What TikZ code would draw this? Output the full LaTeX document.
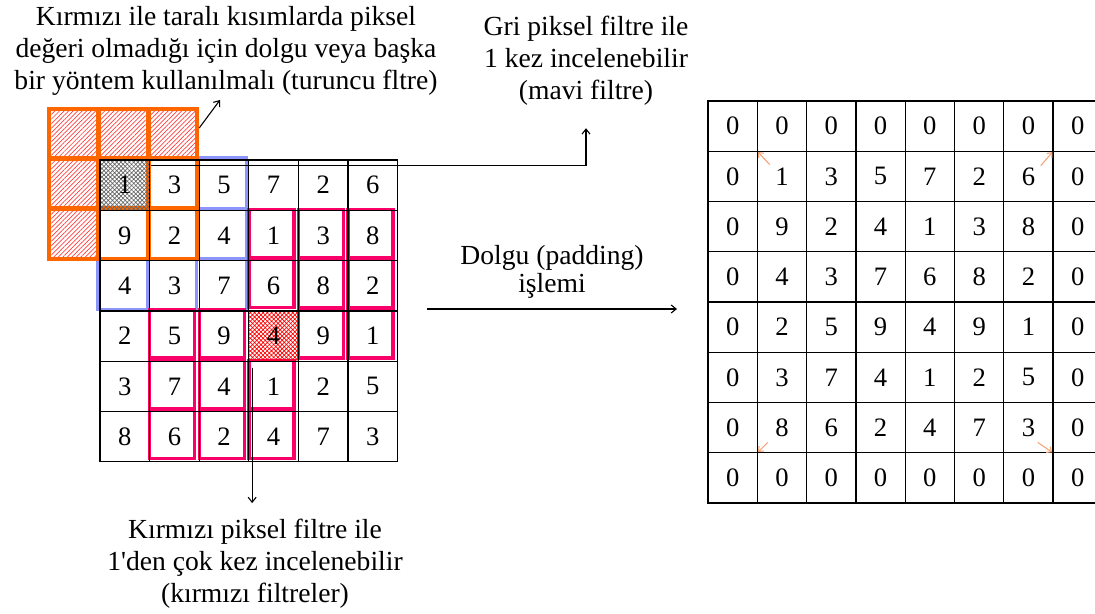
\documentclass[tikz,border=0pt]{standalone}
\usepackage{fontspec}
\setmainfont{Liberation Serif}
\usetikzlibrary{arrows.meta,calc,positioning,patterns.meta}
\definecolor{filtorange}{RGB}{255,102,0}
\definecolor{filtblue}{RGB}{140,150,250}
\definecolor{filtred}{RGB}{250,0,105}
\definecolor{hatchred}{RGB}{255,60,60}
\definecolor{cornerarr}{RGB}{245,165,120}
\tikzset{
  % pixel cells of the input image and of the padded image
  cell/.style={draw, rectangle, minimum width=24.8pt, minimum height=25.15pt,
               inner sep=0pt, line width=0.65pt, font=\fontsize{13.3}{15}\selectfont},
  padcell/.style={cell, minimum width=24.65pt, minimum height=25.125pt},
  % 3x3 filter outlines
  ofilt/.style={draw=filtorange, line width=2pt},
  bfilt/.style={draw=filtblue, line width=1.5pt},
  rfilt/.style={draw=filtred, line width=1.7pt},
  % fills
  nopixel/.style={pattern={Lines[angle=45,distance=1.6pt,line width=0.35pt]}, pattern color=hatchred},
  grayx/.style={pattern={Hatch[angle=45,distance=1.5pt,line width=0.35pt]}, pattern color=black!60},
  redx/.style={pattern={Hatch[angle=45,distance=1.5pt,line width=0.35pt]}, pattern color=red},
  % notes and arrows
  note/.style={align=center, inner sep=0pt, font=\fontsize{13.8}{16}\selectfont},
  flowarr/.style={-{Straight Barb[length=2.5pt,width=4pt]}, line width=0.55pt},
  cornarr/.style={-{Straight Barb[length=2pt,width=3.5pt]}, line width=0.55pt, draw=cornerarr}
}

\begin{document}
\begin{tikzpicture}[x=0.5pt, y=-0.5pt]
\clip (0,0) rectangle (1095,614);

% ---------- filters under the input image ----------
% blue filter around the gray pixel
\foreach \c in {0,1,2} \foreach \r in {0,1,2}
  \draw[bfilt] ({100+49.6*\c-2.5},{160+50.3*\r-2}) rectangle +(49.5,50.5);

% cells outside the image (no pixel value)
\foreach \c/\r in {-1/-1,0/-1,1/-1,-1/0,-1/1}
  \fill[nopixel] ({100+49.6*(\c)+1},{160+50.3*(\r)+1}) rectangle +(44.5,45.5);

% orange filter
\foreach \c in {-1,0,1} \foreach \r in {-1,0,1}
  \draw[ofilt] ({100+49.6*(\c)-1},{160+50.3*(\r)-1}) rectangle +(48.5,49.5);

% two red filters sharing the red pixel
\foreach \c/\r in {3/1,4/1,5/1,3/2,4/2,5/2,4/3,5/3,1/3,2/3,1/4,2/4,3/4,1/5,2/5,3/5}
  \draw[rfilt] ({100+49.6*\c},{160+50.3*\r-1}) rectangle +(45,48);

\fill[grayx] (100,160) rectangle +(49.6,50.3);
\fill[redx] ({100+49.6*3},{160+50.3*3}) rectangle +(49.6,50.3);

% ---------- input image 6x6 ----------
\foreach \vals [count=\r from 0] in {{1,3,5,7,2,6},{9,2,4,1,3,8},{4,3,7,6,8,2},
                                     {2,5,9,4,9,1},{3,7,4,1,2,5},{8,6,2,4,7,3}}
  \foreach \v [count=\c from 0] in \vals
    \node[cell] (L-\r-\c) at ({100+49.6*(\c+0.5)},{160+50.3*(\r+0.5)}) {\v};

% ---------- padded image 8x8 ----------
\foreach \vals [count=\r from 0] in {{0,0,0,0,0,0,0,0},{0,1,3,5,7,2,6,0},{0,9,2,4,1,3,8,0},
                                     {0,4,3,7,6,8,2,0},{0,2,5,9,4,9,1,0},{0,3,7,4,1,2,5,0},
                                     {0,8,6,2,4,7,3,0},{0,0,0,0,0,0,0,0}}
  \foreach \v [count=\c from 0] in \vals
    \node[padcell] (P-\r-\c) at ({708+49.3*(\c+0.5)},{101+50.25*(\r+0.5)}) {\v};

% ---------- notes ----------
\node[note, anchor=north] (ornote) at (226,6.1)
  {Kırmızı ile taralı kısımlarda piksel\\değeri olmadığı için dolgu veya başka\\bir yöntem kullanılmalı (turuncu fltre)};
\node[note, anchor=north] (grinote) at (586,16.1)
  {Gri piksel filtre ile\\1 kez incelenebilir\\(mavi filtre)};
\node[note, anchor=north] (rednote) at (255,519.1)
  {Kırmızı piksel filtre ile\\1\textquotesingle den çok kez incelenebilir\\(kırmızı filtreler)};

% ---------- arrows ----------
\coordinate (ocorner) at (199.2,128);
\draw[flowarr] (ocorner) -- ([xshift=-3pt,yshift=-2pt]ornote.south);

\coordinate (grifrom) at ($(L-0-1.north west)+(2,6)$);
\draw[flowarr, shorten >=11pt] (grifrom) -| (grinote.south);

\coordinate (redfrom) at ($(L-4-3.north west)+(4,7)$);
\draw[flowarr, shorten >=8pt] (redfrom) -- (redfrom |- rednote.north);

\coordinate (padfrom) at (427,309);
\coordinate (padto) at (677,309);
\draw[flowarr] (padfrom) -- node[note, above=5pt, font=\fontsize{13.8}{14}\selectfont] (padnote)
  {Dolgu (padding)\\işlemi} (padto);

% corner arrows of the padded image
\draw[cornarr, shorten >=1pt] ($(P-1-1.north west)+(13,14)$) -- (P-1-1.north west);
\draw[cornarr, shorten >=1pt] ($(P-1-6.north east)+(-13,15)$) -- (P-1-6.north east);
\draw[cornarr, shorten >=1pt] ($(P-6-1.south west)+(11,-11)$) -- (P-6-1.south west);
\draw[cornarr, shorten >=1pt] ($(P-6-6.south east)+(-16,-11)$) -- (P-6-6.south east);
\end{tikzpicture}
\end{document}
